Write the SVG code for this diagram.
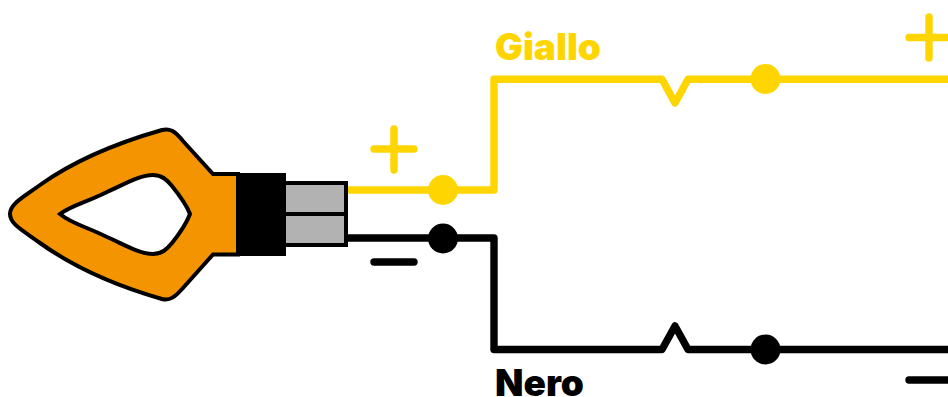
<svg xmlns="http://www.w3.org/2000/svg" width="948" height="397" viewBox="0 0 948 397">
<style>
.w{fill:none;stroke-width:7.400;stroke-linejoin:round;stroke-linecap:round}
.y{stroke:#ffd500}.k{stroke:#000}
.dy{fill:#ffd500}.dk{fill:#000}
.t{font-family:"Inter","Liberation Sans",sans-serif;font-weight:900;font-size:37px}
.b{stroke:#000;stroke-width:4}
</style>
<rect width="948" height="397" fill="#fff"/>
<g id="connectors">
<path class="w y" d="M347 190H494V79.200H662L675 103L688 79.200H952"/>
<path class="w k" d="M347 238H494V349.500H662L675 326L688 349.500H952"/>
</g>
<g id="lamp">
<path d="M213 174H238V254.500H213L183 288C175 297 170 301 162 299C120 287 75 268 40 243C22 230 10 224 10 214C10 204 22 198 40 185C75 160 120 142 162 130C170 128 175 131 183 141Z" fill="#f39400" class="b"/>
<path d="M60 214C72 205 85 203 107 192C125 184 140 175 153 175C162 175 167 180 172 186C180 196 187 206 190 214C187 222 180 233 172 243C167 249 162 254 153 254C140 254 125 245 107 237C85 226 72 224 60 214Z" fill="#fff" class="b"/>
</g>
<g id="connector-body">
<rect x="236" y="173" width="50" height="83" fill="#000"/>
<rect x="284" y="183" width="62" height="31" fill="#b2b2b2" class="b"/>
<rect x="284" y="214" width="62" height="31" fill="#b2b2b2" class="b"/>
</g>
<g id="dot-yellow-1"><circle class="dy" cx="443" cy="190" r="15"/></g>
<g id="dot-black-1"><circle class="dk" cx="443" cy="238.500" r="15"/></g>
<g id="dot-yellow-2"><circle class="dy" cx="765.500" cy="79" r="15"/></g>
<g id="dot-black-2"><circle class="dk" cx="765.500" cy="349.500" r="15"/></g>
<g id="plus-1"><path class="w y" d="M374 149H414M394 129V170"/></g>
<g id="minus-1"><path class="w k" d="M374 262H414"/></g>
<g id="plus-2"><path class="w y" d="M909 37.500H952M929 17V58"/></g>
<g id="minus-2"><path class="w k" d="M909 380H952"/></g>
<g id="label-giallo"><text class="t dy" x="495" y="60">Giallo</text></g>
<g id="label-nero"><text class="t dk" x="495" y="395.500">Nero</text></g>
</svg>
